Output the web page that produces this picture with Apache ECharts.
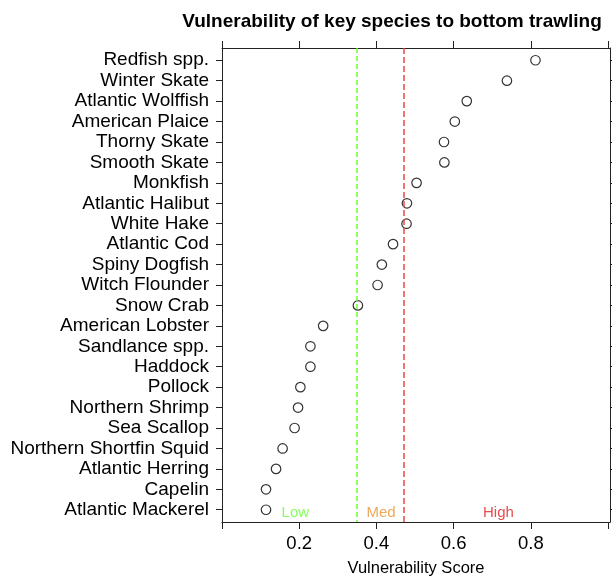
<!DOCTYPE html>
<html>
<head>
<meta charset="utf-8">
<script src="https://cdn.jsdelivr.net/npm/echarts@6/dist/echarts.min.js"></script>
<style>
  html, body { margin: 0; padding: 0; background: #fff; }
  #chart { width: 612px; height: 581px; }
</style>
</head>
<body>
<div id="chart"></div>
<script>
// species, top to bottom
var species = ['Redfish spp.', 'Winter Skate', 'Atlantic Wolffish', 'American Plaice', 'Thorny Skate',
  'Smooth Skate', 'Monkfish', 'Atlantic Halibut', 'White Hake', 'Atlantic Cod', 'Spiny Dogfish',
  'Witch Flounder', 'Snow Crab', 'American Lobster', 'Sandlance spp.', 'Haddock', 'Pollock',
  'Northern Shrimp', 'Sea Scallop', 'Northern Shortfin Squid', 'Atlantic Herring', 'Capelin',
  'Atlantic Mackerel'];
var scores = [0.812, 0.738, 0.634, 0.603, 0.575, 0.576, 0.504, 0.479, 0.478, 0.443, 0.414,
  0.403, 0.352, 0.262, 0.229, 0.229, 0.203, 0.197, 0.188, 0.157, 0.140, 0.114, 0.114];
var xTicks = [0, 0.2, 0.4, 0.6, 0.8, 1.0];
var xLabels = [0.2, 0.4, 0.6, 0.8];
var thresholds = [0.352, 0.472];     // low/med, med/high
var zoneNames = ['Low', 'Med', 'High'];
var zoneX = [0.19, 0.412, 0.716];

var chart = echarts.init(document.getElementById('chart'));
var rows = species.map(function (s, i) { return i; });
var font = 'Liberation Sans, Arial, sans-serif';
var lineCol = '#222';

var xBase = {
  type: 'value', min: 0, max: 1.005,
  axisLine: { show: true, onZero: false, lineStyle: { color: lineCol, width: 1 } },
  axisTick: { show: true, length: 7, customValues: xTicks, lineStyle: { color: lineCol } },
  splitLine: { show: false }
};
var yBase = {
  type: 'value', min: -0.6, max: 22.6, inverse: true,
  axisLine: { show: true, onZero: false, lineStyle: { color: lineCol, width: 1 } },
  axisTick: { show: true, length: 6, customValues: rows, lineStyle: { color: lineCol } },
  splitLine: { show: false }
};

function refLine(x, color, dash) {
  return {
    type: 'line', data: [], silent: true,
    markLine: {
      silent: true, symbol: 'none', label: { show: false },
      lineStyle: { color: color, type: dash, width: 1.5, opacity: 1 },
      emphasis: { disabled: true },
      data: [{ xAxis: x }]
    }
  };
}

var option = {
  backgroundColor: '#fff',
  animation: false,
  title: {
    text: 'Vulnerability of key species to bottom trawling',
    left: 387, top: 7, textAlign: 'center',
    textStyle: { fontFamily: font, fontSize: 19, fontWeight: 'bold', color: '#000' }
  },
  grid: { left: 222, top: 48, width: 388, height: 474, outerBoundsMode: 'none', containLabel: false },
  xAxis: [
    Object.assign({}, xBase, {
      position: 'bottom',
      name: 'Vulnerability Score', nameLocation: 'middle', nameGap: 38,
      nameTextStyle: { fontFamily: font, fontSize: 16.5, color: '#000' },
      axisLabel: {
        customValues: xLabels, margin: 12,
        fontFamily: font, fontSize: 18.5, color: '#000',
        formatter: function (v) { return v.toFixed(1); }
      }
    }),
    Object.assign({}, xBase, { position: 'top', axisLabel: { show: false } })
  ],
  yAxis: [
    Object.assign({}, yBase, {
      position: 'left',
      axisLabel: {
        customValues: rows, margin: 13,
        fontFamily: font, fontSize: 19, color: '#000',
        formatter: function (v) { return species[Math.round(v)]; }
      }
    }),
    Object.assign({}, yBase, { position: 'right', axisLabel: { show: false } })
  ],
  series: [
    refLine(thresholds[0], '#70ff20', [5, 3]),
    refLine(thresholds[1], '#e84848', [6, 3]),
    {
      type: 'scatter',
      symbol: 'circle', symbolSize: 9.5,
      itemStyle: { color: '#fff', borderColor: '#000', borderWidth: 1.2 },
      data: scores.map(function (v, i) { return [v, i]; })
    },
    {
      type: 'scatter',
      symbolSize: 0,
      data: zoneNames.map(function (n, i) { return [zoneX[i], species.length - 1 + 0.15]; }),
      label: {
        show: true, position: 'inside', fontFamily: font, fontSize: 15,
        formatter: function (p) { return zoneNames[p.dataIndex]; },
        color: 'inherit'
      },
      itemStyle: {
        color: function (p) { return ['#66ff33', '#e89530', '#e02020'][p.dataIndex]; }
      },
      silent: true
    }
  ]
};
chart.setOption(option);
</script>
</body>
</html>
